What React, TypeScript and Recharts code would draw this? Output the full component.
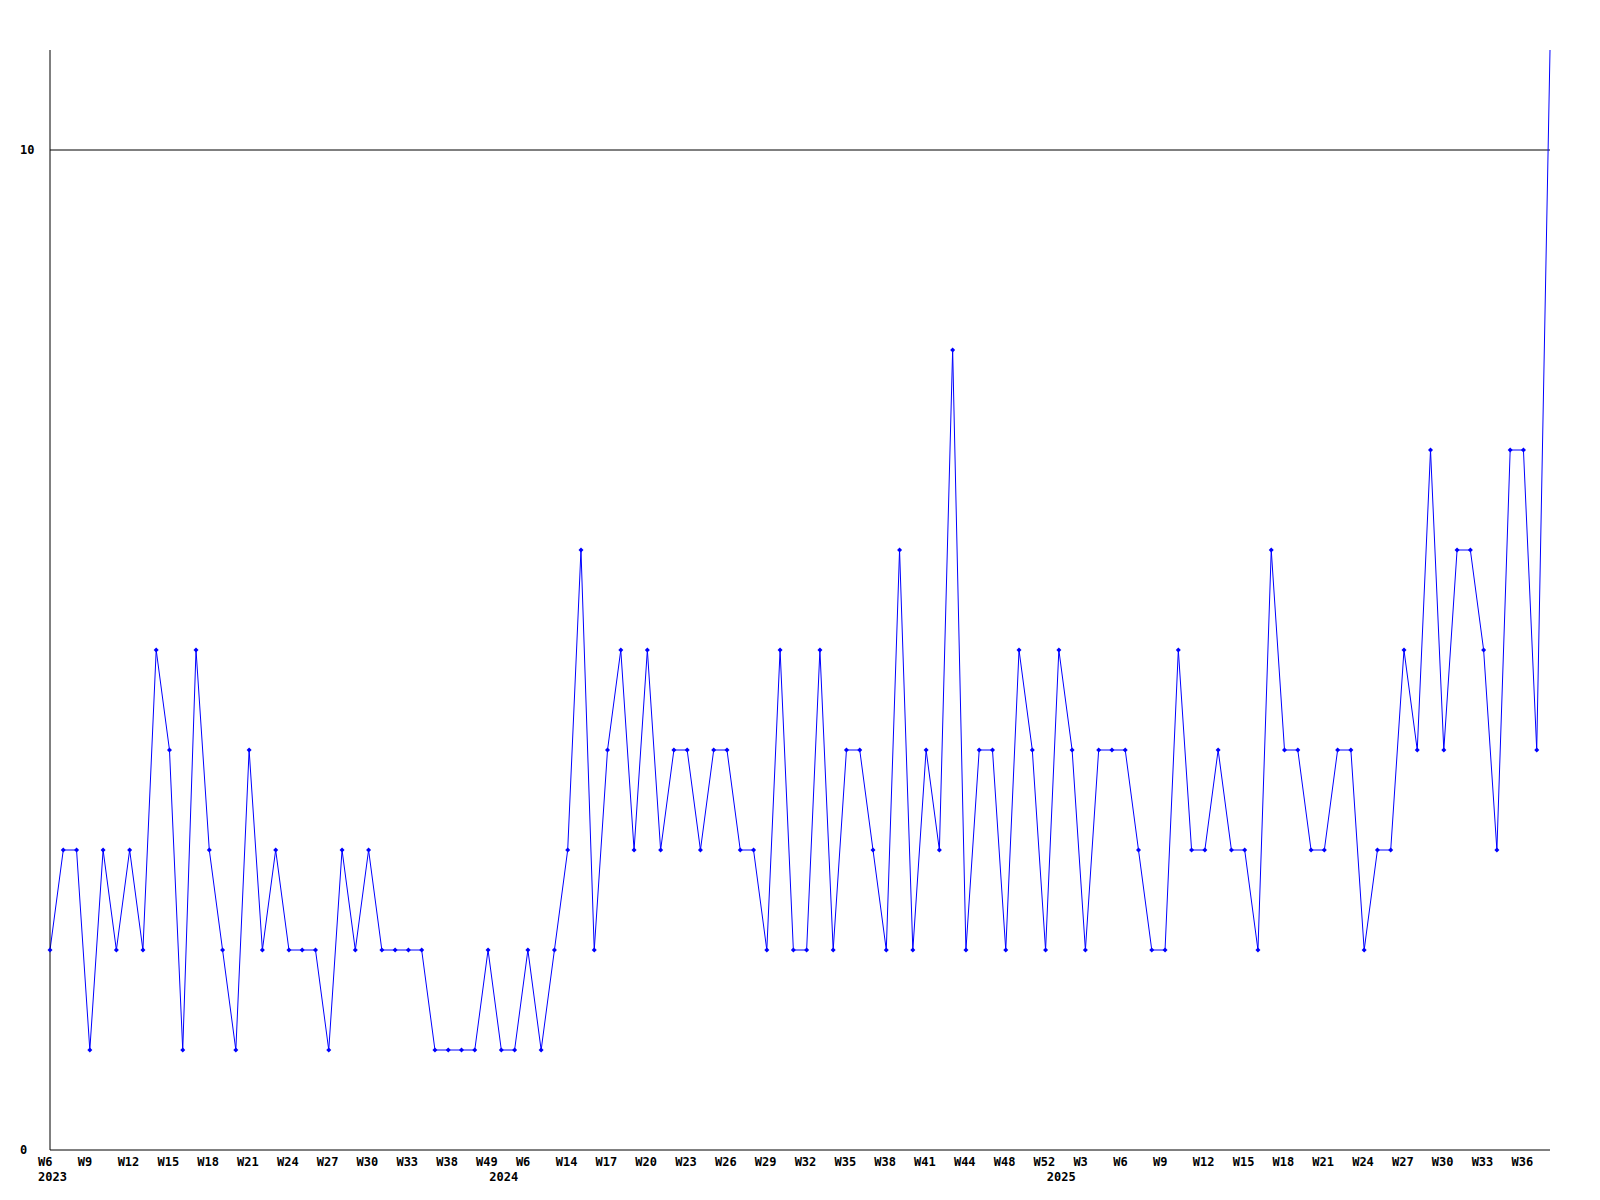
import React from "react";
import { LineChart, Line, XAxis, YAxis, ReferenceLine } from "recharts";

// weekly counts, one point per reported week (some weeks missing in the source)
const counts = [
    2, 3, 3, 1, 3, 2, 3, 2, 5, 4, 1, 5, 3, 2, 1, 4, 2, 3, 2, 2, 2, 1, 3, 2, 3, 2, 2, 2, 2, 1,
    1, 1, 1, 2, 1, 1, 2, 1, 2, 3, 6, 2, 4, 5, 3, 5, 3, 4, 4, 3, 4, 4, 3, 3, 2, 5, 2, 2, 5, 2,
    4, 4, 3, 2, 6, 2, 4, 3, 8, 2, 4, 4, 2, 5, 4, 2, 5, 4, 2, 4, 4, 4, 3, 2, 2, 5, 3, 3, 4, 3,
    3, 2, 6, 4, 4, 3, 3, 4, 4, 2, 3, 3, 5, 4, 7, 4, 6, 6, 5, 3, 7, 7, 4, 11,
];

// every third point carries a week label
const weekLabels = [
    "W6", "W9", "W12", "W15", "W18", "W21", "W24", "W27", "W30", "W33", "W38", "W49", "W6",
    "W14", "W17", "W20", "W23", "W26", "W29", "W32", "W35", "W38", "W41", "W44", "W48", "W52",
    "W3", "W6", "W9", "W12", "W15", "W18", "W21", "W24", "W27", "W30", "W33", "W36",
];
const LABEL_STEP = 3;

const yearPositions = [0, 34, 76];
const yearLabels = ["2023", "2024", "2025"];

const yTicks = [0, 10];
const Y_MAX = 11;

const data = counts.map((v, i) => ({ idx: i, count: v }));
const xTicks = weekLabels.map((_, i) => i * LABEL_STEP);
const allTicks = Array.from(new Set([...xTicks, ...yearPositions])).sort((a, b) => a - b);

const FONT = "'DejaVu Sans Mono', monospace";

const XTick = ({ x, y, payload }: any) => {
    const i = payload.value;
    const week = i % LABEL_STEP === 0 ? weekLabels[i / LABEL_STEP] : null;
    const yearAt = yearPositions.indexOf(i);
    return (
        <g>
            {week && (
                <text x={x - 12} y={y + 12} textAnchor="start" dominantBaseline="central" fontFamily={FONT} fontWeight="bold" fontSize={12} fill="#000">
                    {week}
                </text>
            )}
            {yearAt >= 0 && (
                <text x={x - 12} y={y + 27} textAnchor="start" dominantBaseline="central" fontFamily={FONT} fontWeight="bold" fontSize={12} fill="#000">
                    {yearLabels[yearAt]}
                </text>
            )}
        </g>
    );
};

const YTick = ({ y, payload }: any) => (
    <text x={20} y={y} textAnchor="start" dominantBaseline="central" fontFamily={FONT} fontWeight="bold" fontSize={12} fill="#000">
        {payload.value}
    </text>
);

// small diamond marker; points sitting on the top border are not marked
const Marker = ({ cx, cy, value }: any) => {
    if (cx == null || cy == null || value >= Y_MAX) return null;
    return <path d={`M${cx - 2.5},${cy} L${cx},${cy - 2.5} L${cx + 2.5},${cy} L${cx},${cy + 2.5} Z`} fill="#0000ff" />;
};

export default function App() {
    return (
        <div style={{ position: "absolute", left: 0, top: 0, width: 1600, height: 1200, background: "#fff" }}>
            <LineChart width={1600} height={1200} data={data} margin={{ top: 50, right: 50, left: 0, bottom: 0 }}>
                <XAxis
                    dataKey="idx"
                    type="number"
                    domain={[0, counts.length - 1]}
                    ticks={allTicks}
                    interval={0}
                    height={50}
                    tickSize={0}
                    tickMargin={0}
                    tickLine={false}
                    axisLine={{ stroke: "#000", strokeWidth: 1 }}
                    tick={<XTick />}
                />
                <YAxis
                    domain={[0, Y_MAX]}
                    ticks={yTicks}
                    width={50}
                    allowDataOverflow
                    tickSize={0}
                    tickLine={false}
                    axisLine={{ stroke: "#000", strokeWidth: 1 }}
                    tick={<YTick />}
                />
                <ReferenceLine y={10} stroke="#000" strokeWidth={1} />
                <Line
                    type="linear"
                    dataKey="count"
                    stroke="#0000ff"
                    strokeWidth={1}
                    dot={<Marker />}
                    activeDot={false}
                    isAnimationActive={false}
                />
            </LineChart>
        </div>
    );
}
